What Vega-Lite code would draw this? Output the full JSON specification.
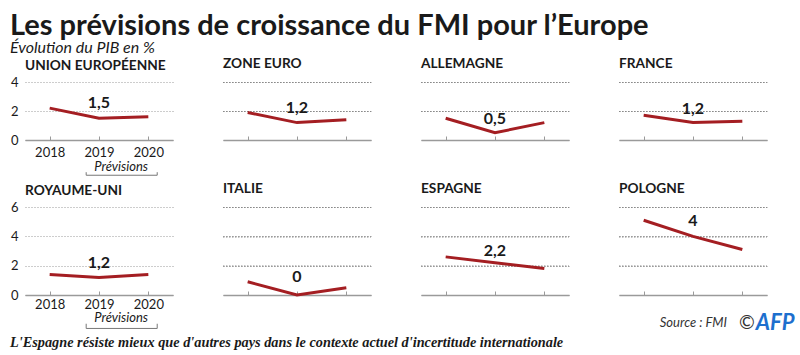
{
  "$schema": "https://vega.github.io/schema/vega-lite/v6.json",
  "padding": {"left": 10, "top": 12, "right": 2, "bottom": 4},
  "background": "white",
  "datasets": {
    "pib": [
      {"pays": "Union européenne", "annee": 2018, "pib": 2.2},
      {"pays": "Union européenne", "annee": 2019, "pib": 1.5},
      {"pays": "Union européenne", "annee": 2020, "pib": 1.6},
      {"pays": "Zone euro", "annee": 2018, "pib": 1.9},
      {"pays": "Zone euro", "annee": 2019, "pib": 1.2},
      {"pays": "Zone euro", "annee": 2020, "pib": 1.4},
      {"pays": "Allemagne", "annee": 2018, "pib": 1.5},
      {"pays": "Allemagne", "annee": 2019, "pib": 0.5},
      {"pays": "Allemagne", "annee": 2020, "pib": 1.2},
      {"pays": "France", "annee": 2018, "pib": 1.7},
      {"pays": "France", "annee": 2019, "pib": 1.2},
      {"pays": "France", "annee": 2020, "pib": 1.3},
      {"pays": "Royaume-uni", "annee": 2018, "pib": 1.4},
      {"pays": "Royaume-uni", "annee": 2019, "pib": 1.2},
      {"pays": "Royaume-uni", "annee": 2020, "pib": 1.4},
      {"pays": "Italie", "annee": 2018, "pib": 0.9},
      {"pays": "Italie", "annee": 2019, "pib": 0.0},
      {"pays": "Italie", "annee": 2020, "pib": 0.5},
      {"pays": "Espagne", "annee": 2018, "pib": 2.6},
      {"pays": "Espagne", "annee": 2019, "pib": 2.2},
      {"pays": "Espagne", "annee": 2020, "pib": 1.8},
      {"pays": "Pologne", "annee": 2018, "pib": 5.1},
      {"pays": "Pologne", "annee": 2019, "pib": 4.0},
      {"pays": "Pologne", "annee": 2020, "pib": 3.1}
    ]
  },
  "data": {"name": "pib"},
  "title": {
    "text": "Les prévisions de croissance du FMI pour l’Europe",
    "subtitle": "Évolution du PIB en %",
    "anchor": "start",
    "frame": "bounds",
    "font": "Lato",
    "fontSize": 29,
    "fontWeight": "bold",
    "color": "#1a1a1a",
    "subtitleFont": "Lato",
    "subtitleFontStyle": "italic",
    "subtitleFontSize": 16,
    "subtitleColor": "#1a1a1a",
    "subtitlePadding": -1,
    "offset": 1
  },
  "columns": 4,
  "spacing": {"row": 67, "column": 50},
  "bounds": "flush",
  "concat": [
    {
      "title": {"text": "UNION EUROPÉENNE", "offset": 3},
      "width": 148, "height": 58,
      "transform": [{"filter": "datum.pays == 'Union européenne'"}],
      "encoding": {
        "x": {"field": "annee", "type": "quantitative", "scale": {"domain": [2017.5, 2020.5]}, "axis": {"values": [2018, 2019, 2020], "format": "d", "title": null, "labelPadding": 10}},
        "y": {"field": "pib", "type": "quantitative", "scale": {"domain": [0, 4]}, "axis": {"values": [0, 2, 4], "title": null, "grid": true}}
      },
      "layer": [
        {"mark": {"type": "line", "color": "#a41e22", "strokeWidth": 3}},
        {"transform": [{"filter": "datum.annee == 2019"}], "mark": {"type": "text", "fontSize": 16, "fontWeight": "bold", "dy": -15, "baseline": "middle", "color": "#1a1a1a"}, "encoding": {"text": {"field": "pib", "type": "quantitative", "format": "~g"}}},
        {"transform": [{"filter": "datum.annee == 2019"}], "mark": {"type": "text", "text": "Prévisions", "fontStyle": "italic", "fontSize": 13, "baseline": "middle", "align": "center", "color": "#1a1a1a"}, "encoding": {"x": {"datum": 2019.45}, "y": {"datum": -1.86}}},
        {"transform": [{"filter": "datum.annee == 2019"}], "mark": {"type": "rule", "color": "#777", "strokeWidth": 1}, "encoding": {"x": {"datum": 2018.74}, "x2": {"datum": 2020.18}, "y": {"datum": -2.43}}},
        {"transform": [{"filter": "datum.annee == 2019"}], "mark": {"type": "rule", "color": "#777", "strokeWidth": 1}, "encoding": {"x": {"datum": 2018.74}, "y": {"datum": -2.22}, "y2": {"datum": -2.43}}},
        {"transform": [{"filter": "datum.annee == 2019"}], "mark": {"type": "rule", "color": "#777", "strokeWidth": 1}, "encoding": {"x": {"datum": 2020.18}, "y": {"datum": -2.22}, "y2": {"datum": -2.43}}}
      ]
    },
    {
      "title": {"text": "ZONE EURO", "offset": 11},
      "width": 148, "height": 58,
      "transform": [{"filter": "datum.pays == 'Zone euro'"}],
      "encoding": {
        "x": {"field": "annee", "type": "quantitative", "scale": {"domain": [2017.5, 2020.5]}, "axis": {"values": [2018, 2019, 2020], "labels": false, "title": null}},
        "y": {"field": "pib", "type": "quantitative", "scale": {"domain": [0, 4]}, "axis": {"values": [0, 2, 4], "labels": false, "grid": true, "title": null}}
      },
      "layer": [
        {"transform": [{"filter": "datum.annee == 2019"}], "mark": {"type": "rule", "color": "#8a8a8a", "strokeWidth": 1.2, "strokeDash": [1.5, 1.5], "yOffset": 0.5}, "encoding": {"x": {"datum": 2017.5}, "x2": {"datum": 2020.5}, "y": {"datum": 2}}},
        {"transform": [{"filter": "datum.annee == 2019"}], "mark": {"type": "rule", "color": "#8a8a8a", "strokeWidth": 1.2, "strokeDash": [1.5, 1.5], "yOffset": 0.5}, "encoding": {"x": {"datum": 2017.5}, "x2": {"datum": 2020.5}, "y": {"datum": 4}}},
        {"mark": {"type": "line", "color": "#a41e22", "strokeWidth": 3}},
        {"transform": [{"filter": "datum.annee == 2019"}], "mark": {"type": "text", "fontSize": 16, "fontWeight": "bold", "dy": -15, "baseline": "middle", "color": "#1a1a1a"}, "encoding": {"text": {"field": "pib", "type": "quantitative", "format": "~g"}}}
      ]
    },
    {
      "title": {"text": "ALLEMAGNE", "offset": 11},
      "width": 148, "height": 58,
      "transform": [{"filter": "datum.pays == 'Allemagne'"}],
      "encoding": {
        "x": {"field": "annee", "type": "quantitative", "scale": {"domain": [2017.5, 2020.5]}, "axis": {"values": [2018, 2019, 2020], "labels": false, "title": null}},
        "y": {"field": "pib", "type": "quantitative", "scale": {"domain": [0, 4]}, "axis": {"values": [0, 2, 4], "labels": false, "grid": true, "title": null}}
      },
      "layer": [
        {"transform": [{"filter": "datum.annee == 2019"}], "mark": {"type": "rule", "color": "#8a8a8a", "strokeWidth": 1.2, "strokeDash": [1.5, 1.5], "yOffset": 0.5}, "encoding": {"x": {"datum": 2017.5}, "x2": {"datum": 2020.5}, "y": {"datum": 2}}},
        {"transform": [{"filter": "datum.annee == 2019"}], "mark": {"type": "rule", "color": "#8a8a8a", "strokeWidth": 1.2, "strokeDash": [1.5, 1.5], "yOffset": 0.5}, "encoding": {"x": {"datum": 2017.5}, "x2": {"datum": 2020.5}, "y": {"datum": 4}}},
        {"mark": {"type": "line", "color": "#a41e22", "strokeWidth": 3}},
        {"transform": [{"filter": "datum.annee == 2019"}], "mark": {"type": "text", "fontSize": 16, "fontWeight": "bold", "dy": -14, "baseline": "middle", "color": "#1a1a1a"}, "encoding": {"text": {"field": "pib", "type": "quantitative", "format": "~g"}}}
      ]
    },
    {
      "title": {"text": "FRANCE", "offset": 11},
      "width": 148, "height": 58,
      "transform": [{"filter": "datum.pays == 'France'"}],
      "encoding": {
        "x": {"field": "annee", "type": "quantitative", "scale": {"domain": [2017.5, 2020.5]}, "axis": {"values": [2018, 2019, 2020], "labels": false, "title": null}},
        "y": {"field": "pib", "type": "quantitative", "scale": {"domain": [0, 4]}, "axis": {"values": [0, 2, 4], "labels": false, "grid": true, "title": null}}
      },
      "layer": [
        {"transform": [{"filter": "datum.annee == 2019"}], "mark": {"type": "rule", "color": "#8a8a8a", "strokeWidth": 1.2, "strokeDash": [1.5, 1.5], "yOffset": 0.5}, "encoding": {"x": {"datum": 2017.5}, "x2": {"datum": 2020.5}, "y": {"datum": 2}}},
        {"transform": [{"filter": "datum.annee == 2019"}], "mark": {"type": "rule", "color": "#8a8a8a", "strokeWidth": 1.2, "strokeDash": [1.5, 1.5], "yOffset": 0.5}, "encoding": {"x": {"datum": 2017.5}, "x2": {"datum": 2020.5}, "y": {"datum": 4}}},
        {"mark": {"type": "line", "color": "#a41e22", "strokeWidth": 3}},
        {"transform": [{"filter": "datum.annee == 2019"}], "mark": {"type": "text", "fontSize": 16, "fontWeight": "bold", "dy": -14, "baseline": "middle", "color": "#1a1a1a"}, "encoding": {"text": {"field": "pib", "type": "quantitative", "format": "~g"}}}
      ]
    },
    {
      "title": {"text": "ROYAUME-UNI", "offset": 3},
      "width": 148, "height": 88,
      "transform": [{"filter": "datum.pays == 'Royaume-uni'"}],
      "encoding": {
        "x": {"field": "annee", "type": "quantitative", "scale": {"domain": [2017.5, 2020.5]}, "axis": {"values": [2018, 2019, 2020], "format": "d", "title": null, "labelPadding": 7}},
        "y": {"field": "pib", "type": "quantitative", "scale": {"domain": [0, 6]}, "axis": {"values": [0, 2, 4, 6], "title": null, "grid": true}}
      },
      "layer": [
        {"mark": {"type": "line", "color": "#a41e22", "strokeWidth": 3}},
        {"transform": [{"filter": "datum.annee == 2019"}], "mark": {"type": "text", "fontSize": 16, "fontWeight": "bold", "dy": -14, "baseline": "middle", "color": "#1a1a1a"}, "encoding": {"text": {"field": "pib", "type": "quantitative", "format": "~g"}}},
        {"transform": [{"filter": "datum.annee == 2019"}], "mark": {"type": "text", "text": "Prévisions", "fontStyle": "italic", "fontSize": 13, "baseline": "middle", "align": "center", "color": "#1a1a1a"}, "encoding": {"x": {"datum": 2019.45}, "y": {"datum": -1.6}}},
        {"transform": [{"filter": "datum.annee == 2019"}], "mark": {"type": "rule", "color": "#777", "strokeWidth": 1}, "encoding": {"x": {"datum": 2018.74}, "x2": {"datum": 2020.18}, "y": {"datum": -2.28}}},
        {"transform": [{"filter": "datum.annee == 2019"}], "mark": {"type": "rule", "color": "#777", "strokeWidth": 1}, "encoding": {"x": {"datum": 2018.74}, "y": {"datum": -1.96}, "y2": {"datum": -2.28}}},
        {"transform": [{"filter": "datum.annee == 2019"}], "mark": {"type": "rule", "color": "#777", "strokeWidth": 1}, "encoding": {"x": {"datum": 2020.18}, "y": {"datum": -1.96}, "y2": {"datum": -2.28}}},
        {"transform": [{"filter": "datum.annee == 2019"}], "mark": {"type": "text", "text": "L'Espagne résiste mieux que d'autres pays dans le contexte actuel d'incertitude internationale", "font": "Liberation Serif", "fontStyle": "italic", "fontWeight": "bold", "fontSize": 14.3, "baseline": "middle", "align": "left", "color": "#1a1a1a"}, "encoding": {"x": {"datum": 2017.196}, "y": {"datum": -3.24}}}
      ]
    },
    {
      "title": {"text": "ITALIE", "offset": 11},
      "width": 148, "height": 88,
      "transform": [{"filter": "datum.pays == 'Italie'"}],
      "encoding": {
        "x": {"field": "annee", "type": "quantitative", "scale": {"domain": [2017.5, 2020.5]}, "axis": {"values": [2018, 2019, 2020], "labels": false, "title": null}},
        "y": {"field": "pib", "type": "quantitative", "scale": {"domain": [0, 6]}, "axis": {"values": [0, 2, 4, 6], "labels": false, "grid": true, "title": null}}
      },
      "layer": [
        {"transform": [{"filter": "datum.annee == 2019"}], "mark": {"type": "rule", "color": "#8a8a8a", "strokeWidth": 1.2, "strokeDash": [1.5, 1.5], "yOffset": 0.5}, "encoding": {"x": {"datum": 2017.5}, "x2": {"datum": 2020.5}, "y": {"datum": 2}}},
        {"transform": [{"filter": "datum.annee == 2019"}], "mark": {"type": "rule", "color": "#8a8a8a", "strokeWidth": 1.2, "strokeDash": [1.5, 1.5], "yOffset": 0.5}, "encoding": {"x": {"datum": 2017.5}, "x2": {"datum": 2020.5}, "y": {"datum": 4}}},
        {"transform": [{"filter": "datum.annee == 2019"}], "mark": {"type": "rule", "color": "#8a8a8a", "strokeWidth": 1.2, "strokeDash": [1.5, 1.5], "yOffset": 0.5}, "encoding": {"x": {"datum": 2017.5}, "x2": {"datum": 2020.5}, "y": {"datum": 6}}},
        {"mark": {"type": "line", "color": "#a41e22", "strokeWidth": 3}},
        {"transform": [{"filter": "datum.annee == 2019"}], "mark": {"type": "text", "fontSize": 16, "fontWeight": "bold", "dy": -18, "baseline": "middle", "color": "#1a1a1a"}, "encoding": {"text": {"field": "pib", "type": "quantitative", "format": "~g"}}}
      ]
    },
    {
      "title": {"text": "ESPAGNE", "offset": 11},
      "width": 148, "height": 88,
      "transform": [{"filter": "datum.pays == 'Espagne'"}],
      "encoding": {
        "x": {"field": "annee", "type": "quantitative", "scale": {"domain": [2017.5, 2020.5]}, "axis": {"values": [2018, 2019, 2020], "labels": false, "title": null}},
        "y": {"field": "pib", "type": "quantitative", "scale": {"domain": [0, 6]}, "axis": {"values": [0, 2, 4, 6], "labels": false, "grid": true, "title": null}}
      },
      "layer": [
        {"transform": [{"filter": "datum.annee == 2019"}], "mark": {"type": "rule", "color": "#8a8a8a", "strokeWidth": 1.2, "strokeDash": [1.5, 1.5], "yOffset": 0.5}, "encoding": {"x": {"datum": 2017.5}, "x2": {"datum": 2020.5}, "y": {"datum": 2}}},
        {"transform": [{"filter": "datum.annee == 2019"}], "mark": {"type": "rule", "color": "#8a8a8a", "strokeWidth": 1.2, "strokeDash": [1.5, 1.5], "yOffset": 0.5}, "encoding": {"x": {"datum": 2017.5}, "x2": {"datum": 2020.5}, "y": {"datum": 4}}},
        {"transform": [{"filter": "datum.annee == 2019"}], "mark": {"type": "rule", "color": "#8a8a8a", "strokeWidth": 1.2, "strokeDash": [1.5, 1.5], "yOffset": 0.5}, "encoding": {"x": {"datum": 2017.5}, "x2": {"datum": 2020.5}, "y": {"datum": 6}}},
        {"mark": {"type": "line", "color": "#a41e22", "strokeWidth": 3}},
        {"transform": [{"filter": "datum.annee == 2019"}], "mark": {"type": "text", "fontSize": 16, "fontWeight": "bold", "dy": -12, "baseline": "middle", "color": "#1a1a1a"}, "encoding": {"text": {"field": "pib", "type": "quantitative", "format": "~g"}}}
      ]
    },
    {
      "title": {"text": "POLOGNE", "offset": 11},
      "width": 148, "height": 88,
      "transform": [{"filter": "datum.pays == 'Pologne'"}],
      "encoding": {
        "x": {"field": "annee", "type": "quantitative", "scale": {"domain": [2017.5, 2020.5]}, "axis": {"values": [2018, 2019, 2020], "labels": false, "title": null}},
        "y": {"field": "pib", "type": "quantitative", "scale": {"domain": [0, 6]}, "axis": {"values": [0, 2, 4, 6], "labels": false, "grid": true, "title": null}}
      },
      "layer": [
        {"transform": [{"filter": "datum.annee == 2019"}], "mark": {"type": "rule", "color": "#8a8a8a", "strokeWidth": 1.2, "strokeDash": [1.5, 1.5], "yOffset": 0.5}, "encoding": {"x": {"datum": 2017.5}, "x2": {"datum": 2020.5}, "y": {"datum": 2}}},
        {"transform": [{"filter": "datum.annee == 2019"}], "mark": {"type": "rule", "color": "#8a8a8a", "strokeWidth": 1.2, "strokeDash": [1.5, 1.5], "yOffset": 0.5}, "encoding": {"x": {"datum": 2017.5}, "x2": {"datum": 2020.5}, "y": {"datum": 4}}},
        {"transform": [{"filter": "datum.annee == 2019"}], "mark": {"type": "rule", "color": "#8a8a8a", "strokeWidth": 1.2, "strokeDash": [1.5, 1.5], "yOffset": 0.5}, "encoding": {"x": {"datum": 2017.5}, "x2": {"datum": 2020.5}, "y": {"datum": 6}}},
        {"mark": {"type": "line", "color": "#a41e22", "strokeWidth": 3}},
        {"transform": [{"filter": "datum.annee == 2019"}], "mark": {"type": "text", "fontSize": 16, "fontWeight": "bold", "dy": -15, "baseline": "middle", "color": "#1a1a1a"}, "encoding": {"text": {"field": "pib", "type": "quantitative", "format": "~g"}}},
        {"transform": [{"filter": "datum.annee == 2019"}], "mark": {"type": "text", "text": "Source : FMI", "fontStyle": "italic", "fontSize": 13, "baseline": "middle", "align": "right", "color": "#333"}, "encoding": {"x": {"datum": 2019.69}, "y": {"datum": -1.89}}},
        {"transform": [{"filter": "datum.annee == 2019"}], "mark": {"type": "text", "text": "©", "fontSize": 19, "baseline": "middle", "align": "left", "color": "#333"}, "encoding": {"x": {"datum": 2019.93}, "y": {"datum": -1.89}}},
        {"transform": [{"filter": "datum.annee == 2019"}], "mark": {"type": "text", "text": "AFP", "fontSize": 22, "fontWeight": "bold", "fontStyle": "italic", "baseline": "middle", "align": "left", "color": "#1d6fce"}, "encoding": {"x": {"datum": 2020.27}, "y": {"datum": -1.89}}}
      ]
    }
  ],
  "config": {
    "font": "Lato",
    "locale": {"number": {"decimal": ",", "thousands": " ", "grouping": [3], "currency": ["", " €"]}},
    "view": {"stroke": null},
    "axisX": {"domainColor": "#9a9a9a", "domainWidth": 1.5, "tickColor": "#9a9a9a", "tickSize": -4, "tickWidth": 1, "grid": false, "labelFontSize": 13, "labelColor": "#1a1a1a", "labelFont": "Lato"},
    "axisY": {"domain": false, "ticks": false, "grid": true, "gridColor": "#9a9a9a", "gridDash": [1, 2], "gridWidth": 1, "labelFontSize": 13, "labelColor": "#1a1a1a", "labelFont": "Lato", "labelPadding": 7},
    "title": {"anchor": "start", "frame": "group", "fontSize": 13.7, "fontWeight": "bold", "color": "#1a1a1a", "offset": 10, "font": "Lato"}
  }
}
